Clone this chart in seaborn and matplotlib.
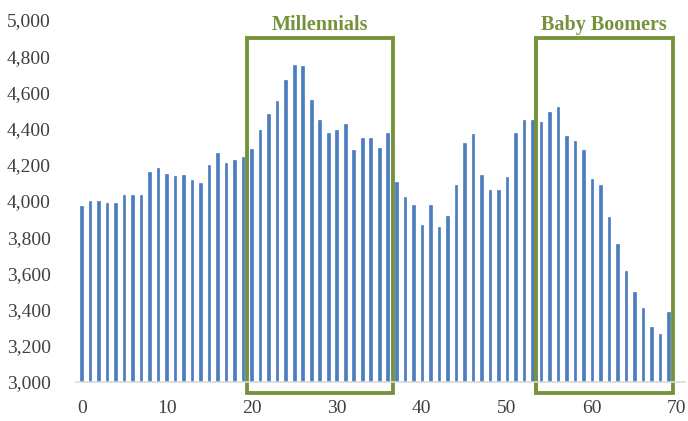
import numpy as np
import pandas as pd
import seaborn as sns
import matplotlib.pyplot as plt
from matplotlib.patches import Rectangle

# population by single year of age (thousands)
ages = list(range(70))
population = [
    3970, 4000, 4000, 3990, 3990, 4035, 4035, 4035, 4160, 4180,
    4150, 4140, 4145, 4115, 4100, 4200, 4265, 4210, 4225, 4245,
    4285, 4390, 4480, 4550, 4670, 4750, 4745, 4560, 4450, 4375,
    4390, 4425, 4280, 4350, 4350, 4290, 4375, 4105, 4020, 3980,
    3870, 3980, 3855, 3915, 4090, 4320, 4370, 4145, 4060, 4060,
    4135, 4375, 4450, 4445, 4435, 4490, 4520, 4360, 4330, 4280,
    4120, 4090, 3913, 3765, 3612, 3498, 3410, 3302, 3265, 3384,
]
generation_names = ['Millennials', 'Baby Boomers']
generation_start = [19.5, 53.4]
generation_end = [36.6, 69.5]

bar_color = '#4a7ebf'
box_color = '#76933c'

sns.set_theme(style='white')
plt.rcParams['font.family'] = ['Liberation Serif', 'DejaVu Serif']

df = pd.DataFrame({'age': ages, 'population': population})

fig = plt.figure(figsize=(6.88, 4.21), dpi=100)
ax = fig.add_axes([0.110, 0.0926, 0.885, 0.860])
sns.barplot(data=df, x='age', y='population', native_scale=True,
            color=bar_color, saturation=1, width=0.3, ax=ax,
            edgecolor=bar_color, linewidth=0.5)

ax.set_ylim(3000, 5000)
ax.set_xlim(-0.7, 70.9)
ax.set_xticks(range(0, 71, 10))
ax.set_yticks(range(3000, 5001, 200))
ax.yaxis.set_major_formatter(plt.FuncFormatter(lambda v, p: f'{int(v):,}'))
ax.tick_params(axis='both', length=0, labelsize=14, colors='#404040')
ax.tick_params(axis='x', pad=13)
ax.tick_params(axis='y', pad=18)
ax.set_xlabel('')
ax.set_ylabel('')
for s in ['top', 'right', 'left']:
    ax.spines[s].set_visible(False)
ax.spines['bottom'].set_color('#d9d9d9')
ax.spines['bottom'].set_linewidth(1.2)

for name, x0, x1 in zip(generation_names, generation_start, generation_end):
    rect = Rectangle((x0, 2940), x1 - x0, 4900 - 2940, fill=False,
                     edgecolor=box_color, linewidth=2.8, clip_on=False)
    ax.add_patch(rect)
    ax.text((x0 + x1) / 2, 4915, name, ha='center', va='bottom',
            color=box_color, fontsize=14.5, fontweight='bold')

fig.savefig('out.png', dpi=100)
